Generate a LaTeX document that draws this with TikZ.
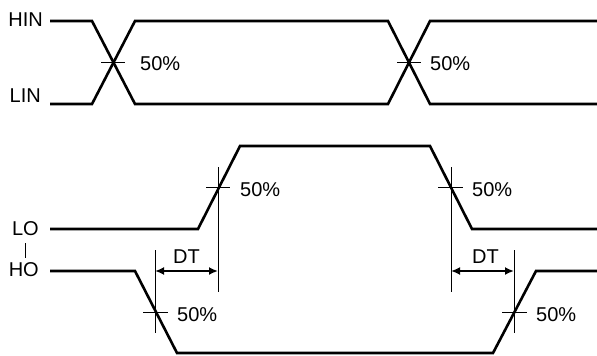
\documentclass[tikz,border=0pt]{standalone}
\usepackage{fontspec}
\setmainfont{Liberation Sans}
\usetikzlibrary{arrows.meta}
\begin{document}
\begin{tikzpicture}[x=1pt,y=-1pt,
  wave/.style={line width=2.6pt,line join=miter},
  thin/.style={line width=1pt},
  dim/.style={line width=2.2pt,{Latex[length=9pt,width=8pt]}-{Latex[length=9pt,width=8pt]}},
  lbl/.style={inner sep=0pt,font=\fontsize{20}{24}\selectfont},
]
\useasboundingbox (0,0) rectangle (597,356);
% labels
\node[lbl,anchor=base east] (hin) at (43,26) {HIN};
\node[lbl,anchor=base east] (lin) at (41,102) {LIN};
\node[lbl,anchor=base east] (lo) at (39,235) {LO};
\node[lbl,anchor=base east] (ho) at (39,276) {HO};
\coordinate (bart) at (25,243);
\coordinate (barb) at (25,258);
\draw[thin] (bart) -- (barb);
% top waveforms
\coordinate (a0) at (50,21);
\coordinate (a1) at (92,21);
\coordinate (a2) at (135,104);
\coordinate (a3) at (388,104);
\coordinate (a4) at (430,21);
\coordinate (a5) at (597,21);
\coordinate (b0) at (50,104);
\coordinate (b1) at (92,104);
\coordinate (b2) at (135,21);
\coordinate (b3) at (388,21);
\coordinate (b4) at (430,104);
\coordinate (b5) at (597,104);
\draw[wave] (a0) -- (a1) -- (a2) -- (a3) -- (a4) -- (a5);
\draw[wave] (b0) -- (b1) -- (b2) -- (b3) -- (b4) -- (b5);
% crossing ticks
\coordinate (t1l) at (101,62.5); \coordinate (t1r) at (125,62.5);
\coordinate (t2l) at (397,62.5); \coordinate (t2r) at (421,62.5);
\draw[thin] (t1l) -- (t1r);
\draw[thin] (t2l) -- (t2r);
\node[lbl,anchor=base west] (p1) at (140,70) {50\%};
\node[lbl,anchor=base west] (p2) at (430,70) {50\%};
% LO waveform
\coordinate (l0) at (50,229);
\coordinate (l1) at (198,229);
\coordinate (l2) at (240,146);
\coordinate (l3) at (430,146);
\coordinate (l4) at (472,229);
\coordinate (l5) at (597,229);
\draw[wave] (l0) -- (l1) -- (l2) -- (l3) -- (l4) -- (l5);
% HO waveform
\coordinate (h0) at (50,271);
\coordinate (h1) at (135,271);
\coordinate (h2) at (177,353);
\coordinate (h3) at (493,353);
\coordinate (h4) at (536,271);
\coordinate (h5) at (597,271);
\draw[wave] (h0) -- (h1) -- (h2) -- (h3) -- (h4) -- (h5);
% 50% markers lower
\coordinate (v1t) at (218,167); \coordinate (v1b) at (218,292);
\coordinate (v2t) at (155,250); \coordinate (v2b) at (155,333);
\coordinate (v3t) at (451,167); \coordinate (v3b) at (451,292);
\coordinate (v4t) at (514,250); \coordinate (v4b) at (514,333);
\draw[thin] (v1t) -- (v1b);
\draw[thin] (v2t) -- (v2b);
\draw[thin] (v3t) -- (v3b);
\draw[thin] (v4t) -- (v4b);
\coordinate (k1l) at (206,187.5); \coordinate (k1r) at (230,187.5);
\coordinate (k2l) at (143,312); \coordinate (k2r) at (168,312);
\coordinate (k3l) at (438,187.5); \coordinate (k3r) at (463,187.5);
\coordinate (k4l) at (502,312); \coordinate (k4r) at (527,312);
\draw[thin] (k1l) -- (k1r);
\draw[thin] (k2l) -- (k2r);
\draw[thin] (k3l) -- (k3r);
\draw[thin] (k4l) -- (k4r);
\node[lbl,anchor=base west] (p3) at (240,196.5) {50\%};
\node[lbl,anchor=base west] (p4) at (177,321.5) {50\%};
\node[lbl,anchor=base west] (p5) at (472,196.5) {50\%};
\node[lbl,anchor=base west] (p6) at (536,321.5) {50\%};
% DT arrows
\coordinate (d1l) at (155,271); \coordinate (d1r) at (218,271);
\coordinate (d2l) at (451,271); \coordinate (d2r) at (514,271);
\draw[dim] (d1l) -- (d1r);
\draw[dim] (d2l) -- (d2r);
\node[lbl,anchor=base west] (dt1) at (173,263) {DT};
\node[lbl,anchor=base west] (dt2) at (472,263) {DT};
\end{tikzpicture}
\end{document}
